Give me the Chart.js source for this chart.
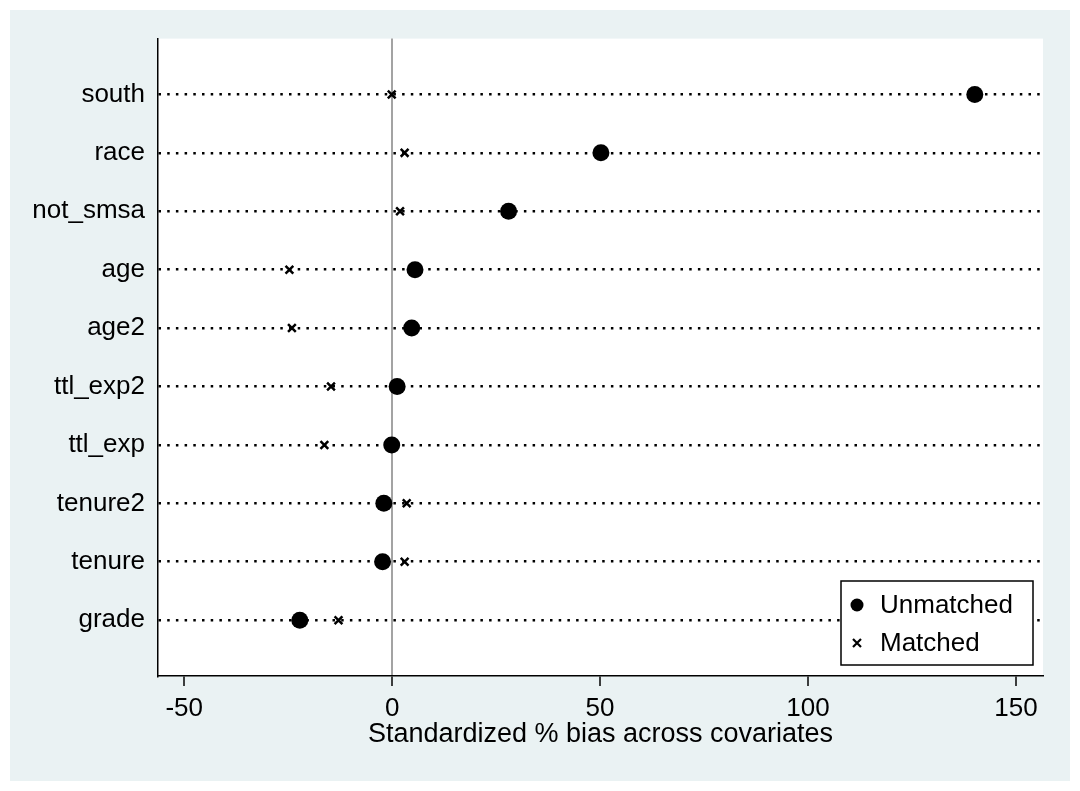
<!DOCTYPE html>
<html>
<head>
<meta charset="utf-8">
<script src="https://cdn.jsdelivr.net/npm/chart.js@4"></script>
<style>
  html, body { margin: 0; padding: 0; background: #fff; }
  #wrap { position: absolute; left: 10px; top: 10px; width: 1060px; height: 771px; background: #eaf2f3; }
</style>
</head>
<body>
<div id="wrap"><canvas id="chart" width="1060" height="771"></canvas></div>
<script>
const categories = ['south','race','not_smsa','age','age2','ttl_exp2','ttl_exp','tenure2','tenure','grade'];
const unmatched = [140.1, 50.2, 28.0, 5.5, 4.7, 1.2, -0.1, -2.0, -2.3, -22.2];
const matched = [-0.1, 3.0, 1.9, -24.7, -24.1, -14.7, -16.3, 3.5, 3.0, -12.9];
const xTicks = [-50, 0, 50, 100, 150];

const FONT = "'Liberation Sans', Arial, sans-serif";
const FS = 26;
const rowPos = i => categories.length - i;

const toPoints = vals => vals.map((v, i) => ({ x: v, y: rowPos(i) }));

const plotBg = {
  id: 'plotBg',
  beforeDraw(chart){
    const {ctx, chartArea: a} = chart;
    ctx.save();
    ctx.fillStyle = '#fff';
    ctx.fillRect(a.left, a.top, a.right - a.left, a.bottom - a.top);
    ctx.restore();
  }
};

// Stata-like boxed legend inside the plot corner
const boxLegend = {
  id: 'boxLegend',
  afterDraw(chart){
    const {ctx, chartArea: a} = chart;
    const w = 192, h = 84;
    const x0 = a.right - 10 - w, y0 = a.bottom - 11 - h;
    ctx.save();
    ctx.fillStyle = '#fff';
    ctx.fillRect(x0, y0, w, h);
    ctx.strokeStyle = '#000';
    ctx.lineWidth = 1.5;
    ctx.strokeRect(x0, y0, w, h);
    ctx.font = FS + 'px ' + FONT;
    ctx.fillStyle = '#000';
    ctx.textBaseline = 'middle';
    const ds = chart.data.datasets;
    // circle
    ctx.beginPath();
    ctx.arc(x0 + 16, y0 + 24, 6.5, 0, Math.PI * 2);
    ctx.fill();
    ctx.fillText(ds[0].label, x0 + 39, y0 + 25);
    // cross
    const cx = x0 + 16, cy = y0 + 62, r = 4;
    ctx.lineWidth = 2.2;
    ctx.beginPath();
    ctx.moveTo(cx - r, cy - r); ctx.lineTo(cx + r, cy + r);
    ctx.moveTo(cx + r, cy - r); ctx.lineTo(cx - r, cy + r);
    ctx.stroke();
    ctx.fillText(ds[1].label, x0 + 39, y0 + 63);
    ctx.restore();
  }
};

new Chart(document.getElementById('chart').getContext('2d'), {
  type: 'scatter',
  data: {
    datasets: [
      { label: 'Unmatched', data: toPoints(unmatched), pointStyle: 'circle', pointRadius: 8.5, pointHoverRadius: 8.5,
        backgroundColor: '#000', borderColor: '#000', borderWidth: 0 },
      { label: 'Matched', data: toPoints(matched), pointStyle: 'crossRot', pointRadius: 5.5, pointHoverRadius: 5.5,
        backgroundColor: '#000', borderColor: '#000', borderWidth: 2.5 }
    ]
  },
  options: {
    responsive: false,
    animation: false,
    layout: { padding: { left: 0, top: 27, right: 27, bottom: 0 } },
    plugins: { legend: { display: false }, tooltip: { enabled: false } },
    scales: {
      x: {
        type: 'linear', min: -56.3, max: 156.5,
        afterBuildTicks: s => { s.ticks = xTicks.map(v => ({ value: v })); },
        afterFit: s => { s.height = 105; },
        grid: {
          color: c => (c.tick && c.tick.value === 0) ? '#a3a3a3' : 'rgba(0,0,0,0)',
          lineWidth: 2, tickColor: '#000', tickLength: 10, tickWidth: 1.5
        },
        border: { color: '#000', width: 1.5 },
        ticks: { color: '#000', font: { family: FONT, size: FS }, padding: 7, maxRotation: 0 },
        title: { display: true, text: 'Standardized % bias across covariates', color: '#000',
          font: { family: FONT, size: 27 }, padding: { top: 0, bottom: 30 } }
      },
      y: {
        type: 'linear', min: 0.044, max: 10.956,
        afterBuildTicks: s => { s.ticks = categories.map((c, i) => ({ value: rowPos(i) })); },
        afterFit: s => { s.width = 148; },
        grid: { color: '#000', lineWidth: 2.5, drawTicks: false },
        border: { color: '#000', width: 1.5, dash: [2.5, 6.2] },
        ticks: {
          color: '#000', font: { family: FONT, size: FS }, padding: 13,
          callback: v => categories[categories.length - Math.round(v)]
        }
      }
    }
  },
  plugins: [plotBg, boxLegend]
});
</script>
</body>
</html>
